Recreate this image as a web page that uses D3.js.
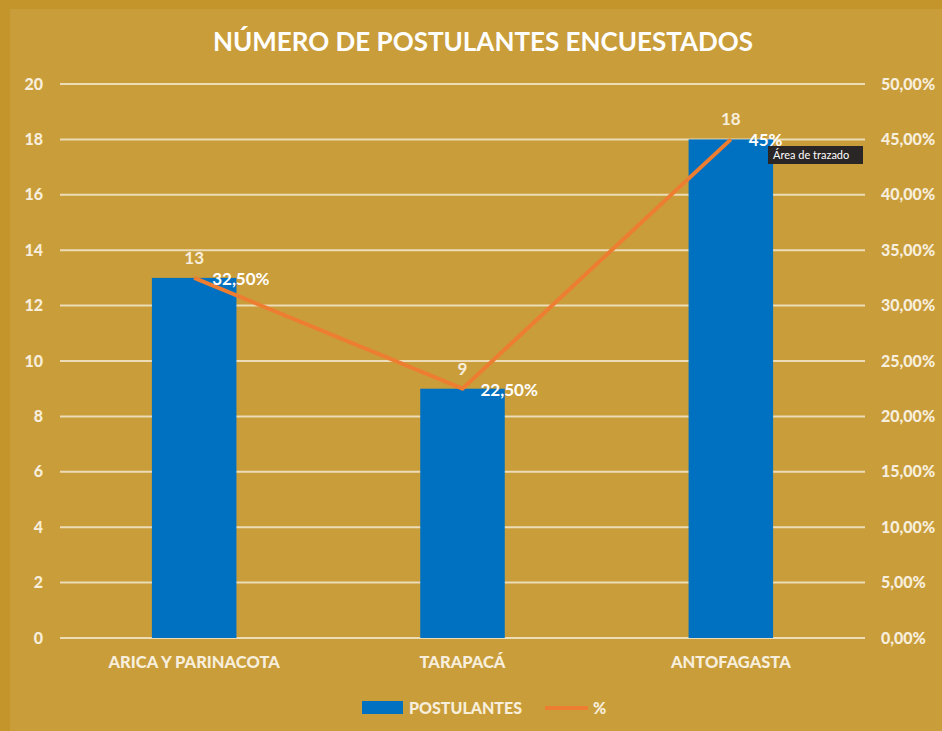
<!DOCTYPE html>
<html>
<head>
<meta charset="utf-8">
<script src="https://cdn.jsdelivr.net/npm/d3@7"></script>
<style>
  body { margin: 0; background: #c4952a; }
  text { font-family: Lato, "Open Sans", sans-serif; font-weight: 700; }
  .heavy text, text.heavy { font-weight: 900; }
</style>
</head>
<body>
<svg id="chart"></svg>
<script>
// chart data
const categories = ['ARICA Y PARINACOTA', 'TARAPACÁ', 'ANTOFAGASTA'];
const postulantes = [13, 9, 18];
const percent = [32.5, 22.5, 45];
const percentLabels = ['32,50%', '22,50%', '45%'];
const leftTicks = [0, 2, 4, 6, 8, 10, 12, 14, 16, 18, 20];
const rightTicks = [0, 5, 10, 15, 20, 25, 30, 35, 40, 45, 50];

const width = 942;
const height = 731;
const light = '#f7eedc';
const blue = '#0070c0';
const orange = '#ed7d31';

const svg = d3.select('#chart')
  .attr('width', width)
  .attr('height', height);

svg.append('rect')
  .attr('width', width).attr('height', height)
  .attr('fill', '#c4952a');

svg.append('rect')
  .attr('x', 10).attr('y', 9)
  .attr('width', width).attr('height', height)
  .attr('fill', '#c99d3a');

svg.append('text')
  .attr('x', 483).attr('y', 51)
  .attr('text-anchor', 'middle')
  .attr('fill', '#ffffff')
  .style('font-size', '26px')
  .text('NÚMERO DE POSTULANTES ENCUESTADOS');

const x = d3.scaleBand()
  .domain(categories)
  .range([60, 865]);

const y = d3.scaleLinear().domain([0, 20]).range([638, 84]);
const y2 = d3.scaleLinear().domain([0, 50]).range([638, 84]);

// gridlines
svg.append('g')
  .selectAll('line')
  .data(leftTicks)
  .enter().append('line')
    .attr('x1', 60).attr('x2', 865)
    .attr('y1', d => y(d)).attr('y2', d => y(d))
    .attr('stroke', '#ecdcb8')
    .attr('stroke-width', 2);

// left axis
const leftAxis = svg.append('g')
  .attr('class', 'heavy')
  .attr('transform', 'translate(43,0)')
  .call(d3.axisLeft(y).tickValues(leftTicks).tickSize(0).tickPadding(0));
leftAxis.select('.domain').remove();
leftAxis.selectAll('text')
  .attr('fill', light)
  .style('font-size', '16px');

// right axis
const rightAxis = svg.append('g')
  .attr('class', 'heavy')
  .attr('transform', 'translate(881,0)')
  .call(d3.axisRight(y2).tickValues(rightTicks).tickSize(0).tickPadding(0)
    .tickFormat(d => d3.format('.2f')(d).replace('.', ',') + '%'));
rightAxis.select('.domain').remove();
rightAxis.selectAll('text')
  .attr('fill', light)
  .style('font-size', '16px');

// bottom axis
const bottomAxis = svg.append('g')
  .attr('class', 'heavy')
  .attr('transform', 'translate(0,656)')
  .call(d3.axisBottom(x).tickSize(0).tickPadding(0));
bottomAxis.select('.domain').remove();
bottomAxis.selectAll('text')
  .attr('dy', '0.71em')
  .attr('fill', light)
  .style('font-size', '16.5px');

// bars
const barW = x.bandwidth() * 0.315;
svg.append('g')
  .selectAll('rect')
  .data(postulantes)
  .enter().append('rect')
    .attr('x', (d, i) => x(categories[i]) + x.bandwidth() / 2 - barW / 2)
    .attr('y', d => y(d))
    .attr('width', barW)
    .attr('height', d => y(0) - y(d))
    .attr('fill', blue);

// line
const line = d3.line()
  .x((d, i) => x(categories[i]) + x.bandwidth() / 2)
  .y(d => y2(d));

svg.append('path')
  .datum(percent)
  .attr('d', line)
  .attr('fill', 'none')
  .attr('stroke', orange)
  .attr('stroke-width', 4);

// bar value labels
svg.append('g')
  .selectAll('text')
  .data(postulantes)
  .enter().append('text')
    .attr('x', (d, i) => x(categories[i]) + x.bandwidth() / 2)
    .attr('y', d => y(d) - 14)
    .attr('text-anchor', 'middle')
    .attr('fill', light)
    .style('font-size', '17px')
    .text(d => d);

// percent labels
svg.append('g')
  .selectAll('text')
  .data(percent)
  .enter().append('text')
    .attr('x', (d, i) => x(categories[i]) + x.bandwidth() / 2 + 18)
    .attr('y', d => y2(d) + 7)
    .attr('fill', '#ffffff')
    .style('font-size', '17px')
    .text((d, i) => percentLabels[i]);

// tooltip
const tip = svg.append('g').attr('transform', 'translate(768,146)');
tip.append('rect')
  .attr('width', 95).attr('height', 18)
  .attr('fill', '#2a2626');
tip.append('text')
  .attr('x', 5).attr('y', 13)
  .attr('fill', '#ffffff')
  .style('font-size', '11px')
  .style('font-weight', 400)
  .text('Área de trazado');

// legend
const legend = svg.append('g').attr('class', 'heavy');
legend.append('rect')
  .attr('x', 362).attr('y', 701)
  .attr('width', 41).attr('height', 13)
  .attr('fill', blue);
legend.append('text')
  .attr('x', 409).attr('y', 714)
  .attr('fill', light)
  .style('font-size', '16px')
  .text('POSTULANTES');
legend.append('line')
  .attr('x1', 545).attr('x2', 588)
  .attr('y1', 708).attr('y2', 708)
  .attr('stroke', orange)
  .attr('stroke-width', 4);
legend.append('text')
  .attr('x', 593).attr('y', 714)
  .attr('fill', light)
  .style('font-size', '16px')
  .text('%');
</script>
</body>
</html>
